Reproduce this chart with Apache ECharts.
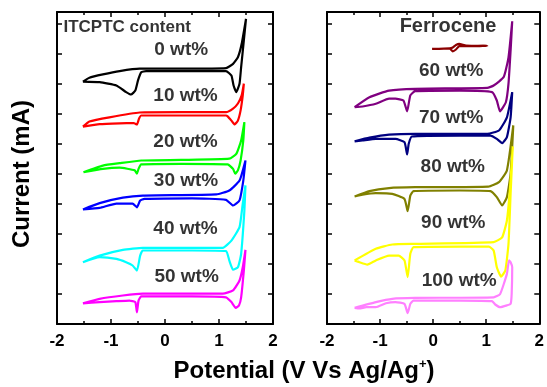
<!DOCTYPE html>
<html><head><meta charset="utf-8">
<script src="https://cdn.jsdelivr.net/npm/echarts@6/dist/echarts.min.js"></script>
<style>html,body{margin:0;padding:0;background:#fff}#c{width:547px;height:387px}</style>
</head><body><div id="c"></div>
<script>
// x axis ticks (V vs Ag/Ag+)
const xTickValues = [-2, -1, 0, 1, 2];

// ---- Left panel: ITCPTC content (potential V, offset current) ----
const cv0 = [[-1.52,8.08],[-1.40,8.21],[-1.15,8.32],[-0.84,8.43],[-0.47,8.51],[0.33,8.51],[1.13,8.53],[1.26,8.67],[1.35,8.89],[1.42,9.34],[1.50,10.17],[1.46,9.45],[1.41,8.56],[1.38,8.01],[1.32,7.73],[1.27,7.95],[1.23,8.28],[1.13,8.43],[0.33,8.43],[-0.35,8.43],[-0.44,8.39],[-0.50,8.12],[-0.55,7.78],[-0.63,7.65],[-0.72,7.73],[-0.90,7.95],[-1.21,8.06],[-1.52,8.08]];
const cv10 = [[-1.52,6.58],[-1.40,6.75],[-1.03,6.89],[-0.47,7.05],[0.3,7.06],[1.13,7.06],[1.26,7.18],[1.35,7.35],[1.42,7.62],[1.46,8.01],[1.44,7.62],[1.40,7.12],[1.35,6.78],[1.29,6.65],[1.23,6.78],[1.16,6.92],[1.13,6.95],[0.3,6.95],[-0.44,6.95],[-0.48,6.85],[-0.52,6.65],[-0.58,6.70],[-0.84,6.69],[-1.21,6.66],[-1.52,6.58]];
const cv20 = [[-1.51,5.06],[-1.15,5.28],[-0.84,5.36],[-0.44,5.45],[0.3,5.47],[1.19,5.51],[1.32,5.67],[1.41,6.12],[1.47,6.73],[1.45,6.12],[1.40,5.45],[1.35,5.12],[1.30,5.01],[1.26,5.17],[1.16,5.32],[0.3,5.34],[-0.44,5.32],[-0.49,5.17],[-0.52,5.01],[-0.56,5.12],[-0.84,5.21],[-1.15,5.17],[-1.51,5.06]];
const cv30 = [[-1.52,3.82],[-1.21,4.03],[-0.78,4.21],[-0.41,4.28],[0.95,4.32],[1.19,4.45],[1.38,4.78],[1.49,5.45],[1.45,4.78],[1.38,4.12],[1.26,3.95],[1.13,4.14],[0.5,4.19],[-0.38,4.17],[-0.46,4.12],[-0.52,3.89],[-0.60,4.01],[-0.90,4.01],[-1.21,3.87],[-1.52,3.82]];
const cv40 = [[-1.52,2.06],[-1.21,2.28],[-0.78,2.47],[-0.41,2.54],[1.07,2.54],[1.23,2.78],[1.38,3.23],[1.44,4.01],[1.49,4.62],[1.47,3.78],[1.41,2.34],[1.35,1.89],[1.26,1.81],[1.19,2.12],[1.13,2.43],[0.5,2.45],[-0.41,2.45],[-0.46,2.28],[-0.52,1.78],[-0.60,1.95],[-0.72,2.06],[-0.90,2.17],[-1.21,2.23],[-1.52,2.06]];
const cv50 = [[-1.52,0.69],[-1.21,0.84],[-0.78,0.95],[-0.41,1.01],[1.07,1.01],[1.26,1.12],[1.38,1.45],[1.44,1.89],[1.49,2.47],[1.46,1.78],[1.41,0.89],[1.37,0.62],[1.31,0.54],[1.23,0.73],[1.13,0.89],[0.5,0.92],[-0.44,0.92],[-0.49,0.78],[-0.52,0.39],[-0.55,0.73],[-0.66,0.78],[-0.90,0.76],[-1.21,0.73],[-1.52,0.69]];

// ---- Right panel ----
const cvFc = [[-0.02,9.17],[0.31,9.18],[0.37,9.09],[0.43,9.15],[0.49,9.26],[0.62,9.26],[1.02,9.27],[0.62,9.28],[0.49,9.34],[0.43,9.30],[0.37,9.22],[0.31,9.19],[-0.02,9.17]];
const cv60 = [[-1.48,7.23],[-1.20,7.56],[-0.83,7.78],[-0.34,7.84],[1.02,7.87],[1.14,7.95],[1.33,8.23],[1.42,8.89],[1.49,10.09],[1.46,9.12],[1.42,8.01],[1.37,7.39],[1.26,7.09],[1.20,7.45],[1.11,7.73],[0.5,7.78],[-0.34,7.76],[-0.43,7.62],[-0.49,7.09],[-0.56,7.45],[-0.71,7.51],[-0.83,7.51],[-1.08,7.34],[-1.33,7.25],[-1.48,7.23]];
const cv70 = [[-1.48,6.09],[-1.20,6.21],[-0.83,6.31],[-0.34,6.34],[1.02,6.34],[1.24,6.45],[1.39,6.89],[1.49,7.73],[1.46,6.89],[1.39,6.23],[1.30,6.03],[1.20,6.17],[1.08,6.28],[0.5,6.28],[-0.40,6.25],[-0.46,6.01],[-0.49,5.65],[-0.54,6.06],[-0.71,6.17],[-1.08,6.17],[-1.33,6.12],[-1.48,6.09]];
const cv80 = [[-1.48,4.25],[-1.20,4.43],[-0.83,4.53],[-0.34,4.56],[1.04,4.58],[1.24,4.73],[1.39,5.12],[1.51,6.62],[1.46,5.01],[1.39,4.23],[1.30,3.95],[1.20,4.23],[1.08,4.43],[0.5,4.45],[-0.37,4.43],[-0.43,4.28],[-0.48,3.76],[-0.54,4.17],[-0.77,4.34],[-1.08,4.36],[-1.33,4.31],[-1.48,4.25]];
const cv90 = [[-1.48,2.12],[-1.08,2.51],[-0.77,2.65],[-0.34,2.67],[1.14,2.73],[1.30,2.89],[1.39,3.45],[1.45,4.56],[1.50,5.92],[1.46,4.34],[1.42,2.67],[1.36,1.78],[1.28,1.58],[1.20,1.89],[1.14,2.45],[1.05,2.58],[0.5,2.58],[-0.37,2.56],[-0.43,2.34],[-0.48,1.56],[-0.54,2.12],[-0.65,2.28],[-0.83,2.28],[-1.08,2.12],[-1.24,1.98],[-1.39,2.06],[-1.48,2.12]];
const cv100 = [[-1.48,0.54],[-1.08,0.73],[-0.77,0.84],[-0.34,0.87],[1.14,0.89],[1.26,0.99],[1.39,1.67],[1.43,2.12],[1.46,2.06],[1.49,1.89],[1.48,1.01],[1.46,0.67],[1.39,0.62],[1.26,0.56],[1.17,0.65],[1.11,0.76],[0.5,0.78],[-0.37,0.78],[-0.43,0.67],[-0.48,0.36],[-0.54,0.67],[-0.71,0.73],[-0.89,0.69],[-1.08,0.56],[-1.26,0.56],[-1.39,0.52],[-1.48,0.54]];

const leftNames = ['0 wt%','10 wt%','20 wt%','30 wt%','40 wt%','50 wt%'];
const rightNames = ['Ferrocene','60 wt%','70 wt%','80 wt%','90 wt%','100 wt%'];
const leftAnchors = [[0.30,9.14],[0.38,7.62],[0.38,6.08],[0.39,4.76],[0.38,3.17],[0.40,1.58]];
const rightAnchors = [[0.28,9.91],[0.34,8.45],[0.34,6.89],[0.37,5.25],[0.38,3.36],[0.49,1.43]];
const leftTitle = 'ITCPTC content';
const leftTitleAnchor = [-1.88, 9.89];

const leftCurves = [cv0, cv10, cv20, cv30, cv40, cv50];
const rightCurves = [cvFc, cv60, cv70, cv80, cv90, cv100];
const leftColors = ['#000000','#ff0000','#00ff00','#0000ff','#00ffff','#ff00ff'];
const rightColors = ['#8b0000','#800080','#000080','#808000','#ffff00','#ff80ff'];

const FONT = "'Liberation Sans', Arial, Helvetica, sans-serif";

function xAx(gi, pos, labels) {
  return {
    type: 'value', gridIndex: gi, position: pos, min: -2, max: 2, interval: 1,
    axisLine: { show: true, onZero: false, lineStyle: { color: '#000', width: 2 } },
    axisTick: { show: true, inside: true, length: 5, lineStyle: { color: '#000', width: 1.5 } },
    minorTick: { show: true, splitNumber: 2, length: 3, lineStyle: { color: '#000', width: 1.5 } },
    axisLabel: { show: labels, color: '#000', fontSize: 17, fontWeight: 'bold', fontFamily: FONT, margin: 9,
      formatter: v => (xTickValues.indexOf(v) >= 0 ? String(v) : '') },
    splitLine: { show: false }
  };
}
function yAx(gi, pos) {
  return {
    type: 'value', gridIndex: gi, position: pos, min: 0, max: 10.4, interval: 1,
    axisLine: { show: true, onZero: false, lineStyle: { color: '#000', width: 2 } },
    axisTick: { show: true, inside: true, length: 5, lineStyle: { color: '#000', width: 1.5 } },
    axisLabel: { show: false }, splitLine: { show: false }
  };
}

const series = [];
leftCurves.forEach((d, i) => series.push({
  type: 'line', xAxisIndex: 0, yAxisIndex: 0, data: d, showSymbol: false, symbol: 'none',
  lineStyle: { color: leftColors[i], width: 2.2 }, smooth: 0.15, silent: true, z: 2 + i
}));
rightCurves.forEach((d, i) => series.push({
  type: 'line', xAxisIndex: 2, yAxisIndex: 2, data: d, showSymbol: false, symbol: 'none',
  lineStyle: { color: rightColors[i], width: 2.2 }, smooth: 0.15, silent: true, z: 2 + i
}));

const labelStyle = { show: true, position: 'inside', color: '#000', fontWeight: 'bold', fontFamily: FONT, fontSize: 19 };
series.push({
  type: 'scatter', xAxisIndex: 0, yAxisIndex: 0, symbolSize: 0, silent: true, z: 20,
  data: leftNames.map((n, i) => ({ value: leftAnchors[i], label: Object.assign({}, labelStyle, { formatter: n }) }))
    .concat([{ value: leftTitleAnchor, label: Object.assign({}, labelStyle, { formatter: leftTitle, fontSize: 17, position: 'right', distance: 0 }) }])
});
series.push({
  type: 'scatter', xAxisIndex: 2, yAxisIndex: 2, symbolSize: 0, silent: true, z: 20,
  data: rightNames.map((n, i) => ({ value: rightAnchors[i], label: Object.assign({}, labelStyle, { formatter: n, fontSize: i === 0 ? 20 : 19 }) }))
});

const chart = echarts.init(document.getElementById('c'), null, { renderer: 'canvas' });
chart.setOption({
  animation: false,
  backgroundColor: '#ffffff',
  grid: [
    { left: 57, top: 12, width: 216, height: 312 },
    { left: 327, top: 12, width: 216, height: 312 }
  ],
  xAxis: [xAx(0, 'bottom', true), xAx(0, 'top', false), xAx(1, 'bottom', true), xAx(1, 'top', false)],
  yAxis: [yAx(0, 'left'), yAx(0, 'right'), yAx(1, 'left'), yAx(1, 'right')],
  series: series,
  graphic: [
    { type: 'text', x: 304, y: 358, style: {
        text: '{a|Potential (V Vs Ag/Ag}{b|+}{a|)}', align: 'center',
        rich: { a: { fontSize: 24, fontWeight: 'bold', fontFamily: FONT, fill: '#000', lineHeight: 27 },
                b: { fontSize: 13, fontWeight: 'bold', fontFamily: FONT, fill: '#000', verticalAlign: 'top', lineHeight: 14 } } } },
    { type: 'text', x: 22, y: 174, rotation: Math.PI / 2, style: {
        text: 'Current (mA)', fontSize: 24, fontWeight: 'bold', fontFamily: FONT, fill: '#000',
        align: 'center', verticalAlign: 'middle' } }
  ]
});
</script>
</body></html>
